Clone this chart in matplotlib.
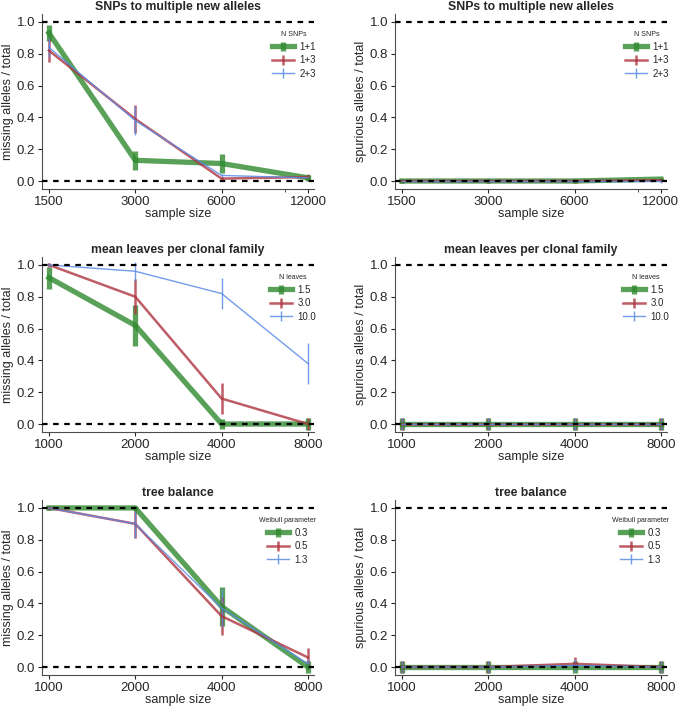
import numpy as np
import matplotlib
matplotlib.use('Agg')
import matplotlib.pyplot as plt
from matplotlib.ticker import NullFormatter

plt.rcParams['font.family'] = ['Liberation Sans', 'DejaVu Sans']
plt.rcParams['text.color'] = '.15'
plt.rcParams['axes.labelcolor'] = '.15'
plt.rcParams['xtick.color'] = '.15'
plt.rcParams['ytick.color'] = '.15'
plt.rcParams['axes.edgecolor'] = '.3'

# sample sizes for each row
x_snps = [1500, 3000, 6000, 12000]
x_leaves = [1000, 2000, 4000, 8000]
x_balance = [1000, 2000, 4000, 8000]

# legend labels
lab_snps = ['1+1', '1+3', '2+3']
lab_leaves = ['1.5', '3.0', '10.0']
lab_balance = ['0.3', '0.5', '1.3']

# missing alleles / total (mean, error)
miss_snps = [[0.93, 0.13, 0.11, 0.02], [0.82, 0.39, 0.015, 0.025], [0.84, 0.38, 0.035, 0.02]]
miss_snps_err = [[0.05, 0.06, 0.06, 0.02], [0.07, 0.09, 0.01, 0.02], [0.06, 0.09, 0.01, 0.01]]
miss_leaves = [[0.92, 0.62, 0.0, 0.0], [1.0, 0.80, 0.16, 0.0], [1.0, 0.96, 0.82, 0.38]]
miss_leaves_err = [[0.07, 0.13, 0.03, 0.04], [0.01, 0.11, 0.10, 0.04], [0.01, 0.06, 0.10, 0.13]]
miss_balance = [[1.0, 1.0, 0.38, 0.0], [1.0, 0.90, 0.32, 0.06], [1.0, 0.90, 0.37, 0.02]]
miss_balance_err = [[0.01, 0.01, 0.12, 0.04], [0.01, 0.09, 0.12, 0.06], [0.01, 0.09, 0.12, 0.03]]

# spurious alleles / total (mean, error)
spur_snps = [[0.0, 0.0, 0.0, 0.012], [0.0, 0.0, 0.0, 0.005], [0.0, 0.0, 0.0, 0.0]]
spur_snps_err = [[0.01, 0.01, 0.01, 0.01], [0.01, 0.01, 0.01, 0.01], [0.01, 0.01, 0.01, 0.01]]
spur_leaves = [[0.0, 0.0, 0.0, 0.0], [0.0, 0.0, 0.0, 0.0], [0.0, 0.0, 0.0, 0.0]]
spur_leaves_err = [[0.04, 0.04, 0.04, 0.04], [0.04, 0.04, 0.04, 0.04], [0.04, 0.04, 0.04, 0.04]]
spur_balance = [[0.0, 0.0, 0.0, 0.0], [0.0, 0.0, 0.02, 0.0], [0.0, 0.0, 0.01, 0.0]]
spur_balance_err = [[0.04, 0.04, 0.04, 0.04], [0.04, 0.04, 0.04, 0.04], [0.04, 0.04, 0.04, 0.04]]

colores = ['#2f8a2f', '#ae3440', '#5a8ce8']
anchos = [3.8, 1.8, 1.0]
alfas = [0.8, 0.8, 0.85]

fig = plt.figure(figsize=(6.81, 7.12), dpi=100)

filas = [
    ('SNPs to multiple new alleles', 'N SNPs', x_snps, lab_snps,
     miss_snps, miss_snps_err, spur_snps, spur_snps_err),
    ('mean leaves per clonal family', 'N leaves', x_leaves, lab_leaves,
     miss_leaves, miss_leaves_err, spur_leaves, spur_leaves_err),
    ('tree balance', 'Weibull parameter', x_balance, lab_balance,
     miss_balance, miss_balance_err, spur_balance, spur_balance_err),
]

bottoms = [0.7346, 0.3933, 0.052]
lefts = [0.0617, 0.580]
w, h = 0.3994, 0.2458

for r, (titulo, leg_t, xs, labs, mv, me, sv, se) in enumerate(filas):
    for c, (vals, errs, ylab) in enumerate([(mv, me, 'missing alleles / total'),
                                            (sv, se, 'spurious alleles / total')]):
        ax = fig.add_axes([lefts[c], bottoms[r], w, h])
        ax.set_xscale('log', base=2)
        for k in range(3):
            ax.errorbar(xs, vals[k], yerr=errs[k], color=colores[k], lw=anchos[k],
                        elinewidth=anchos[k], capsize=0, alpha=alfas[k], label=labs[k])
        ax.axhline(0, color='black', ls=(0, (2.5, 2.5)), lw=1.6, zorder=5)
        ax.axhline(1, color='black', ls=(0, (2.5, 2.5)), lw=1.6, zorder=5)
        ax.set_ylim(-0.05, 1.05)
        ax.set_xlim(xs[0] / 2 ** 0.08, xs[-1] * 2 ** 0.07)
        ax.set_xticks(xs)
        ax.set_xticklabels([str(v) for v in xs])
        if xs[0] == 1500:
            ax.set_xticks([10000], minor=True)
        else:
            ax.set_xticks([], minor=True)
        ax.xaxis.set_minor_formatter(NullFormatter())
        ax.set_yticks([0, 0.2, 0.4, 0.6, 0.8, 1.0])
        ax.set_yticklabels(['0.0', '0.2', '0.4', '0.6', '0.8', '1.0'])
        ax.tick_params(labelsize=9.5, length=3, width=0.8, pad=2)
        ax.tick_params(which='minor', length=2, width=0.6)
        ax.spines['top'].set_visible(False)
        ax.spines['right'].set_visible(False)
        ax.set_xlabel('sample size', fontsize=9, labelpad=0)
        ax.set_ylabel(ylab, fontsize=9, labelpad=2)
        ax.set_title(titulo, fontsize=8.8, fontweight='bold', pad=3)
        leg = ax.legend(title=leg_t, loc='upper right', bbox_to_anchor=(1.04, 0.95),
                        frameon=False, fontsize=7, title_fontsize=5,
                        handlelength=2.2, labelspacing=0.35, handletextpad=0.6)

fig.savefig('out.png', dpi=100)
